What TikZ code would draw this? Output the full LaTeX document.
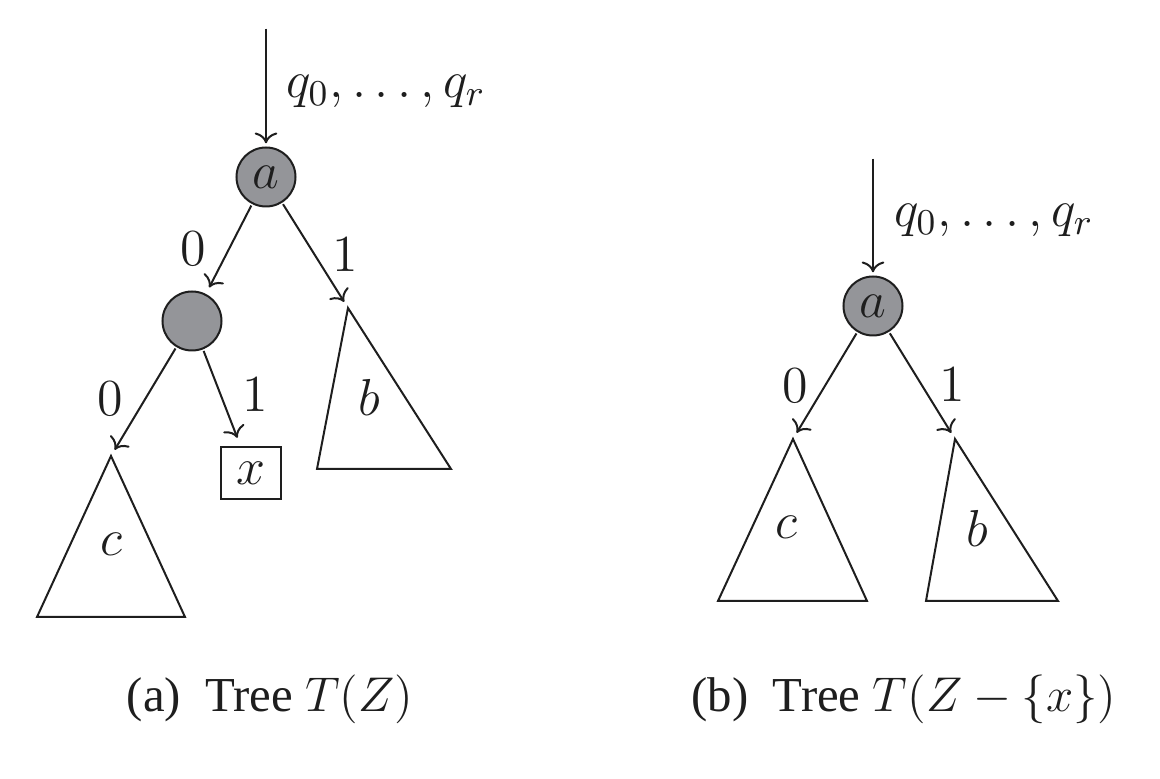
\RequirePackage{fix-cm}
\documentclass[tikz,border=0pt]{standalone}
\usepackage[no-math]{fontspec}
\setmainfont{Liberation Serif}
\usetikzlibrary{arrows.meta}
\definecolor{nodegray}{RGB}{148,149,153}
\definecolor{inkc}{RGB}{30,30,30}
\begin{document}
\begin{tikzpicture}[x=0.25pt,y=-0.25pt,
  every node/.style={font=\fontsize{13}{15}\selectfont, text=inkc},
  line width=0.5pt, draw=inkc,
  graynode/.style={circle, draw=inkc, fill=nodegray, minimum size=14.75pt, inner sep=0pt},
  leafbox/.style={rectangle, draw=inkc, minimum width=15pt, minimum height=13pt, inner sep=0pt},
  edge/.style={->, draw=inkc, shorten >=1.8pt, shorten <=0.4pt},
  tri/.style={draw=inkc, line join=miter},
  caption/.style={anchor=base, inner sep=0pt, font=\fontsize{12.2}{14}\selectfont}]
\useasboundingbox (0,0) rectangle (1160,779);

% ---------- (a) ----------
\coordinate (ltop) at (266,27);
\node[graynode] (la) at (266,177) {$a$};
\node[graynode] (ln) at (192,321) {};
\node[leafbox] (lx) at (251,473) {$x$};
\coordinate (lbt) at (348,308);
\coordinate (lct) at (111,456);
\draw[tri] (lbt) -- (317,469) -- (451,469) -- cycle;
\draw[tri] (lct) -- (37,617) -- (185,617) -- cycle;
\node (lb) at (369,397) {$b$};
\node (lc) at (111,544) {$c$};

\draw[edge, shorten >=0.8pt] (ltop) -- (la);
\node[anchor=base west, inner sep=0pt] (lq) at (285,98) {$q_0,\ldots,q_r$};
\draw[edge] (la) -- (ln);
\draw[edge] (la) -- (lbt);
\draw[edge] (ln) -- (lct);
\draw[edge, shorten >=2.2pt] (ln) -- (lx);
\node (l0a) at (193,249) {$0$};
\node (l1a) at (345,255) {$1$};
\node (l0b) at (110,399) {$0$};
\node (l1b) at (255,395) {$1$};

% ---------- (b) ----------
\coordinate (rtop) at (873,157);
\node[graynode] (ra) at (873,306) {$a$};
\coordinate (rct) at (793,439);
\coordinate (rbt) at (955,439);
\draw[tri] (rct) -- (718,601) -- (867,601) -- cycle;
\draw[tri] (rbt) -- (926,601) -- (1058,601) -- cycle;
\node (rc) at (786,527) {$c$};
\node (rb) at (977,528) {$b$};

\draw[edge, shorten >=0.8pt] (rtop) -- (ra);
\node[anchor=base west, inner sep=0pt] (rq) at (893,227) {$q_0,\ldots,q_r$};
\draw[edge] (ra) -- (rct);
\draw[edge] (ra) -- (rbt);
\node (r0) at (795,386) {$0$};
\node (r1) at (952,385) {$1$};

% ---------- captions ----------
\node[caption] (capa) at (270,712) {(a)\enspace Tree $T(Z)$};
\node[caption] (capb) at (904,712) {(b)\enspace Tree $T(Z-\{x\})$};
\end{tikzpicture}
\end{document}
